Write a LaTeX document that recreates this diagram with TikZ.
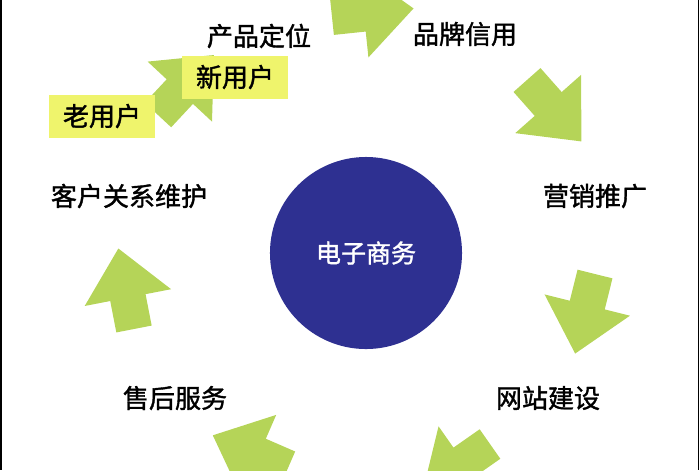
\documentclass[tikz,border=0pt]{standalone}
\usepackage{fontspec}
\newfontfamily\cjk[FakeBold=1.4]{Noto Sans CJK SC}
\definecolor{arrowgreen}{RGB}{181,212,88}
\definecolor{boxyellow}{RGB}{239,244,108}
\definecolor{ecblue}{RGB}{46,48,145}
\tikzset{
	blockarrow/.pic={
		\fill[arrowgreen] (0,-18) -- (32,-18) -- (32,-44) -- (82,0) -- (32,44) -- (32,18) -- (0,18) -- cycle;
	},
	label/.style={font=\cjk\fontsize{18.5}{20}\selectfont, text=black, inner sep=0pt},
	userbox/.style={label, fill=boxyellow, minimum width=2.625cm, minimum height=1.075cm}
}
\begin{document}
\begin{tikzpicture}[x=0.025cm, y=-0.025cm]
	\useasboundingbox (0,0) rectangle (700,470);
	\coordinate (A1) at (158,115);
	\coordinate (A2) at (332,17);
	\coordinate (A3) at (527,80);
	\coordinate (A4) at (595,274);
	\coordinate (A5) at (490,444);
	\coordinate (A6) at (288,468);
	\coordinate (A7) at (134,329);
	\coordinate (L) at (1,0);
	\coordinate (R) at (698.5,0);
	
	\pic[rotate=47]   at (A1) {blockarrow};
	\pic[rotate=6]    at (A2) {blockarrow};
	\pic[rotate=-48.5] at (A3) {blockarrow};
	\pic[rotate=-104] at (A4) {blockarrow};
	\pic[rotate=-145] at (A5) {blockarrow};
	\pic[rotate=156.5] at (A6) {blockarrow};
	\pic[rotate=101]  at (A7) {blockarrow};
	
	\node[circle, fill=ecblue, minimum size=4.8cm, font=\cjk\fontsize{17.8}{20}\selectfont, text=white] (ec) at (366,253) {电子商务};
	
	\node[userbox] (old) at (102,116) {老用户};
	\node[userbox] (new) at (235,77) {新用户};
	
	\node[label] (pos)   at (259,36)  {产品定位};
	\node[label] (brand) at (465,34)  {品牌信用};
	\node[label] (promo) at (595,196) {营销推广};
	\node[label] (web)   at (548,398) {网站建设};
	\node[label] (after) at (175,398) {售后服务};
	\node[label] (crm)   at (129,196) {客户关系维护};
	
	\draw[line width=1pt] (L) -- ++(0,470);
	\draw[line width=1pt] (R) -- ++(0,470);
\end{tikzpicture}
\end{document}
